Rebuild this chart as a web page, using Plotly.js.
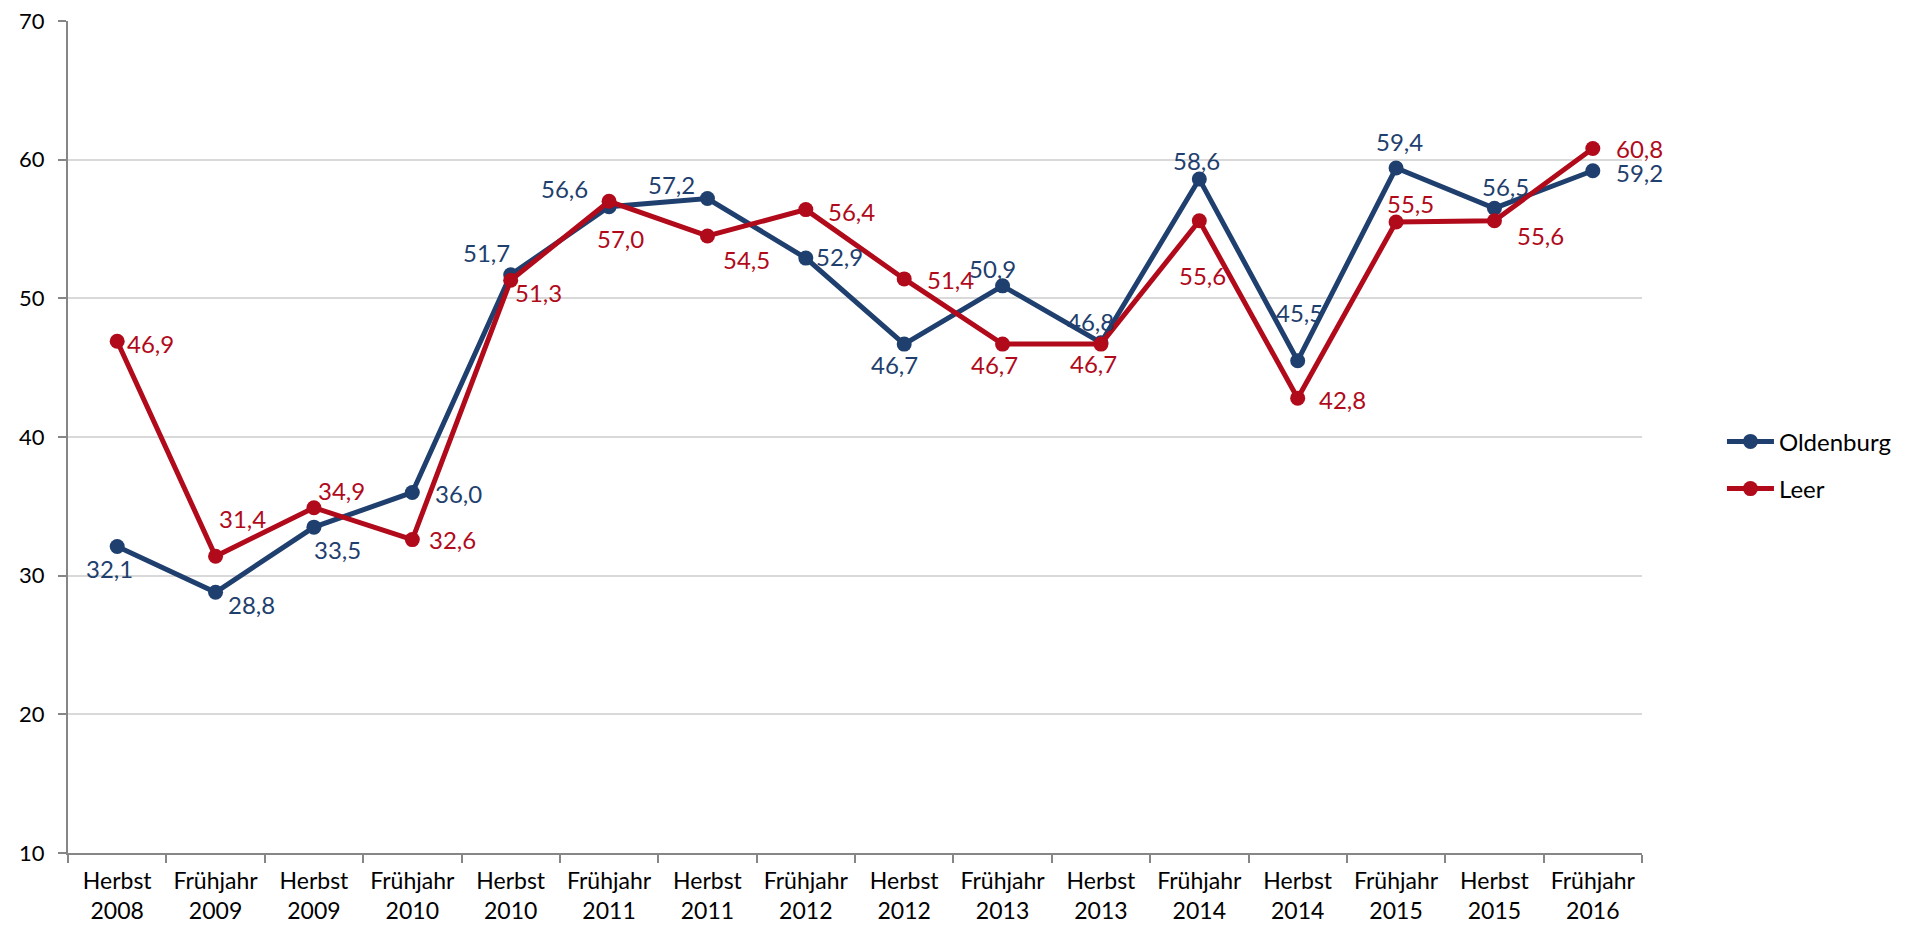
<!DOCTYPE html>
<html>
<head>
<meta charset="utf-8">
<script src="https://cdn.plot.ly/plotly-3.0.1.min.js"></script>
<style>html,body{margin:0;padding:0;background:#fff;}#chart{width:1910px;height:933px;}</style>
</head>
<body>
<div id="chart"></div>
<script>
const categories = ["Herbst<br>2008","Frühjahr<br>2009","Herbst<br>2009","Frühjahr<br>2010","Herbst<br>2010","Frühjahr<br>2011","Herbst<br>2011","Frühjahr<br>2012","Herbst<br>2012","Frühjahr<br>2013","Herbst<br>2013","Frühjahr<br>2014","Herbst<br>2014","Frühjahr<br>2015","Herbst<br>2015","Frühjahr<br>2016"];
const oldenburg = [32.1, 28.8, 33.5, 36.0, 51.7, 56.6, 57.2, 52.9, 46.7, 50.9, 46.8, 58.6, 45.5, 59.4, 56.5, 59.2];
const leer = [46.9, 31.4, 34.9, 32.6, 51.3, 57.0, 54.5, 56.4, 51.4, 46.7, 46.7, 55.6, 42.8, 55.5, 55.6, 60.8];
const yTicks = [10, 20, 30, 40, 50, 60, 70];

// label offsets (pixels from the marker, x right / y down)
const oldDx = [-8, 36, 24, 46, -24, -45, -36, 34, -10, -10, -10, -3, 2, 3, 11, 47];
const oldDy = [22, 12, 22, 1, -22, -18, -14, -2, 20, -17, -21, -19, -48, -26, -22, 2];
const leerDx = [33, 27, 28, 40, 28, 11, 39, 46, 46, -8, -7, 3, 45, 14, 46, 47];
const leerDy = [2, -38, -17, 0, 12, 37, 24, 2, 1, 20, 19, 55, 1, -19, 15, 0];

const fmt = v => v.toFixed(1).replace('.', ',');
const BLUE = '#1f3f6e', RED = '#b00a1b';
const FONT = 'Lato, sans-serif';

const traces = [
  {x: categories, y: oldenburg, name: 'Oldenburg', legendgroup: 'o', type: 'scatter', mode: 'lines+markers',
   line: {color: BLUE, width: 5}, marker: {color: BLUE, size: 15}, cliponaxis: false},
  {x: categories, y: leer, name: 'Leer', legendgroup: 'l', type: 'scatter', mode: 'lines+markers',
   line: {color: RED, width: 5}, marker: {color: RED, size: 15}, cliponaxis: false}
];

function labels(vals, dx, dy, color) {
  return vals.map((v, i) => ({
    x: categories[i], y: v, xref: 'x', yref: 'y', text: fmt(v), showarrow: false,
    xanchor: 'center', yanchor: 'middle', xshift: dx[i], yshift: -dy[i],
    font: {family: FONT, size: 24, color: color}
  }));
}

const layout = {
  width: 1910, height: 933,
  margin: {l: 68, r: 268, t: 21, b: 80},
  paper_bgcolor: '#fff', plot_bgcolor: '#fff',
  font: {family: FONT, size: 24, color: '#000'},
  showlegend: true,
  legend: {x: 1.0508, y: 0.466, xanchor: 'left', yanchor: 'middle', font: {size: 24, color: '#000'},
           traceorder: 'grouped', tracegroupgap: 13, itemwidth: 47},
  xaxis: {type: 'category', range: [-0.5, 15.5], showgrid: false, showline: true, linecolor: '#868686', linewidth: 2,
          ticks: 'outside', tickson: 'boundaries', ticklen: 8, tickcolor: '#868686', tickwidth: 2,
          ticklabelstandoff: 6, tickfont: {size: 23, family: FONT}, zeroline: false, fixedrange: true},
  yaxis: {range: [10, 70], tickvals: yTicks, showgrid: true, gridcolor: '#d9d9d9', gridwidth: 2,
          showline: true, linecolor: '#868686', linewidth: 2, ticks: 'outside', ticklen: 8, tickcolor: '#868686', tickwidth: 2,
          ticklabelstandoff: 9, tickfont: {size: 22, family: FONT}, zeroline: false, fixedrange: true},
  annotations: labels(oldenburg, oldDx, oldDy, BLUE).concat(labels(leer, leerDx, leerDy, RED))
};

Plotly.newPlot('chart', traces, layout, {displayModeBar: false, staticPlot: true});
</script>
</body>
</html>
